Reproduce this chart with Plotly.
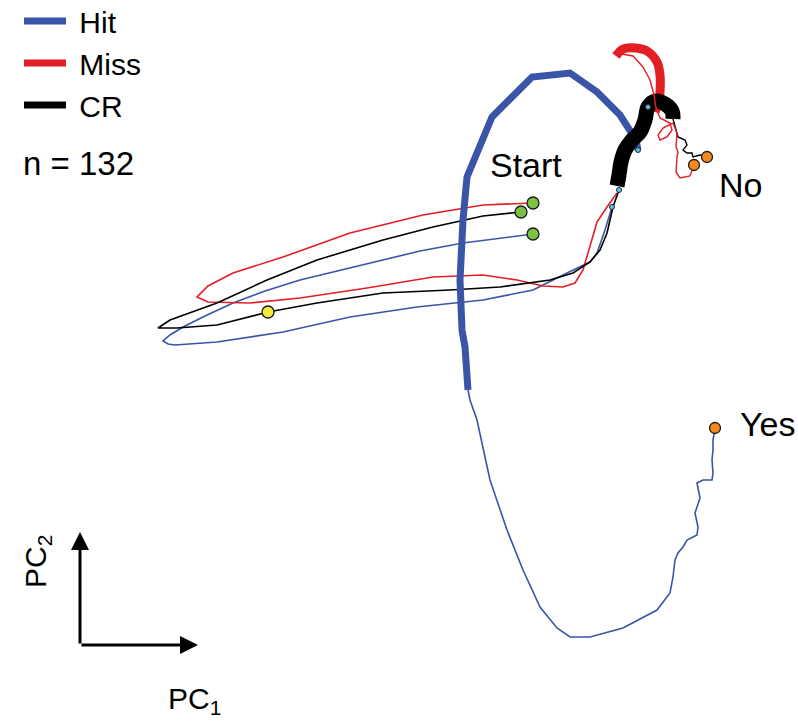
import plotly.graph_objects as go

# ---- data (PC1 / PC2 projections; PC2 grows downward in screen terms) ----
hit_pre_x = [533, 500, 463, 420, 383, 340, 300, 265, 233, 205, 183, 170, 163, 168, 175, 217, 283, 350, 417, 483, 533, 567, 590, 597, 605, 612]
hit_pre_y = [234, 238, 243, 251, 260, 270, 280, 291, 303, 316, 327, 335, 341, 344, 345, 342, 332, 317, 307, 300, 290, 273, 262, 253, 230, 207]
hit_stim_x = [638, 636, 620, 597, 570, 532, 492, 467, 463, 460, 462, 465, 468]
hit_stim_y = [150, 140, 115, 92, 73, 77, 117, 177, 220, 280, 330, 347, 390]
hit_post_x = [468, 470, 477, 490, 507, 523, 540, 557, 570, 590, 623, 657, 670, 673, 675, 678, 683, 687, 697, 698, 695, 697, 700, 698, 697, 703, 712, 713, 712, 713, 713, 715]
hit_post_y = [390, 400, 420, 480, 530, 570, 607, 628, 637, 637, 628, 610, 593, 577, 560, 553, 547, 540, 535, 527, 513, 507, 498, 488, 483, 480, 480, 473, 460, 450, 440, 428]

miss_pre_x = [533, 483, 423, 350, 283, 233, 208, 197, 208, 250, 300, 367, 433, 483, 517, 543, 563, 575, 583, 590, 597, 607, 617]
miss_pre_y = [203, 205, 215, 233, 257, 273, 286, 297, 302, 303, 298, 288, 277, 275, 280, 286, 287, 283, 270, 247, 222, 207, 193]
miss_stim_x = [655, 659, 660, 660, 657, 647, 635, 623, 616]
miss_stim_y = [112, 100, 92, 75, 62, 51, 48, 49, 56]
miss_post_x = [622, 633, 643, 650, 654, 656, 660, 670, 672, 667, 660, 658, 663, 673, 677, 676, 678, 677, 676, 680, 690, 694]
miss_post_y = [54, 56, 67, 80, 95, 108, 118, 123, 130, 137, 140, 135, 128, 123, 133, 147, 152, 157, 172, 178, 176, 165]

cr_pre_x = [521, 483, 433, 383, 317, 267, 217, 170, 158, 177, 217, 268, 317, 383, 450, 500, 550, 573, 590, 600, 607, 613, 619]
cr_pre_y = [212, 216, 227, 240, 260, 280, 303, 320, 328, 328, 325, 312, 303, 293, 290, 287, 280, 273, 262, 250, 233, 207, 190]
cr_stim_x = [617, 619, 621, 625, 632, 640, 645, 648, 655, 665, 672, 673]
cr_stim_y = [186, 175, 162, 150, 140, 132, 120, 107, 101, 104, 111, 119]
cr_post_x = [673, 678, 685, 687, 683, 687, 692, 693, 700, 707]
cr_post_y = [119, 137, 140, 145, 150, 153, 153, 157, 155, 157]

series_names = ["Hit", "Miss", "CR"]
series_colors = ["#3a55a8", "#e31e24", "#000000"]
stim_widths = [7, 9, 15]
stim_shapes = ["linear", "spline", "spline"]

yellow_idx = 11  # cue marker on CR trajectory
labels = [("Start", 526, 165), ("No", 740, 185), ("Yes", 767, 424)]
n_text = "n = 132"

segments = [
    (hit_pre_x, hit_pre_y, hit_stim_x, hit_stim_y, hit_post_x, hit_post_y),
    (miss_pre_x, miss_pre_y, miss_stim_x, miss_stim_y, miss_post_x, miss_post_y),
    (cr_pre_x, cr_pre_y, cr_stim_x, cr_stim_y, cr_post_x, cr_post_y),
]

fig = go.Figure()

# thin pre trajectories and Hit post trajectory
for (px, py, sx, sy, qx, qy), col in zip(segments, series_colors):
    fig.add_trace(go.Scatter(x=px, y=py, mode="lines", line=dict(color=col, width=1.6),
                             showlegend=False, hoverinfo="skip"))
fig.add_trace(go.Scatter(x=hit_post_x, y=hit_post_y, mode="lines", line=dict(color="#3a55a8", width=1.6),
                         showlegend=False, hoverinfo="skip"))
# thick stimulus segments: Hit, Miss, then CR on top
for (px, py, sx, sy, qx, qy), col, w, shp in zip(segments, series_colors, stim_widths, stim_shapes):
    fig.add_trace(go.Scatter(x=sx, y=sy, mode="lines", line=dict(color=col, width=w, shape=shp),
                             showlegend=False, hoverinfo="skip"))
# thin post-stimulus Miss / CR trajectories
fig.add_trace(go.Scatter(x=cr_post_x, y=cr_post_y, mode="lines", line=dict(color="#000000", width=1.4),
                         showlegend=False, hoverinfo="skip"))
fig.add_trace(go.Scatter(x=miss_post_x, y=miss_post_y, mode="lines",
                         line=dict(color="#e31e24", width=1.4), showlegend=False, hoverinfo="skip"))

# small transition dots
tx = [hit_pre_x[-1], cr_pre_x[-1], hit_stim_x[0], cr_stim_x[7]]
ty = [hit_pre_y[-1], cr_pre_y[-1], hit_stim_y[0], cr_stim_y[7]]
fig.add_trace(go.Scatter(x=tx, y=ty, mode="markers",
                         marker=dict(size=5, color="#5ec8d8", line=dict(color="#1a2a4a", width=1)),
                         showlegend=False, hoverinfo="skip"))

# start dots (green)
fig.add_trace(go.Scatter(x=[hit_pre_x[0], miss_pre_x[0], cr_pre_x[0]],
                         y=[hit_pre_y[0], miss_pre_y[0], cr_pre_y[0]], mode="markers",
                         marker=dict(size=12, color="#7cc242", line=dict(color="#1a1a1a", width=1.3)),
                         showlegend=False, hoverinfo="skip"))
# cue dot (yellow)
fig.add_trace(go.Scatter(x=[cr_pre_x[yellow_idx]], y=[cr_pre_y[yellow_idx]], mode="markers",
                         marker=dict(size=12, color="#f3ea3a", line=dict(color="#1a1a1a", width=1.3)),
                         showlegend=False, hoverinfo="skip"))
# end dots (orange)
fig.add_trace(go.Scatter(x=[hit_post_x[-1], miss_post_x[-1], cr_post_x[-1]],
                         y=[hit_post_y[-1], miss_post_y[-1], cr_post_y[-1]], mode="markers",
                         marker=dict(size=11, color="#f5891f", line=dict(color="#1a1a1a", width=1.3)),
                         showlegend=False, hoverinfo="skip"))

# legend entries
for nm, col in zip(series_names, series_colors):
    fig.add_trace(go.Scatter(x=[None], y=[None], mode="lines", name="\u00a0" + nm,
                             line=dict(color=col, width=7), showlegend=True))

font_family = "Liberation Sans, Arial, sans-serif"
annotations = []
for txt, lx, ly in labels:
    annotations.append(dict(x=lx, y=ly, text=txt, showarrow=False, xref="x", yref="y",
                            font=dict(size=34, color="black", family=font_family)))
annotations.append(dict(x=21, y=163, text=n_text, showarrow=False, xanchor="left", xref="x", yref="y",
                        font=dict(size=33, color="black", family=font_family)))
# PC axes arrows
annotations.append(dict(x=198, y=645, ax=80, ay=645, axref="x", ayref="y", xref="x", yref="y",
                        text="", showarrow=True, arrowhead=2, arrowsize=1.2, arrowwidth=3, arrowcolor="black"))
annotations.append(dict(x=80, y=532, ax=80, ay=645, axref="x", ayref="y", xref="x", yref="y",
                        text="", showarrow=True, arrowhead=2, arrowsize=1.2, arrowwidth=3, arrowcolor="black"))
annotations.append(dict(x=194, y=700, text="PC<sub>1</sub>", showarrow=False, xref="x", yref="y",
                        font=dict(size=30, color="black", family=font_family)))
annotations.append(dict(x=37, y=562, text="PC<sub>2</sub>", showarrow=False, xref="x", yref="y",
                        textangle=-90, font=dict(size=30, color="black", family=font_family)))

fig.update_layout(
    width=798, height=728,
    margin=dict(l=0, r=0, t=0, b=0, autoexpand=False),
    paper_bgcolor="white", plot_bgcolor="white",
    xaxis=dict(range=[0, 798], visible=False, fixedrange=True),
    yaxis=dict(range=[728, 0], visible=False, fixedrange=True),
    showlegend=True,
    legend=dict(x=19 / 798, y=1.0 + 5 / 728, xanchor="left", yanchor="top", bgcolor="rgba(0,0,0,0)",
                font=dict(size=30, color="black", family=font_family),
                itemwidth=42, tracegroupgap=0),
    annotations=annotations,
)

fig.write_html("out.html")
